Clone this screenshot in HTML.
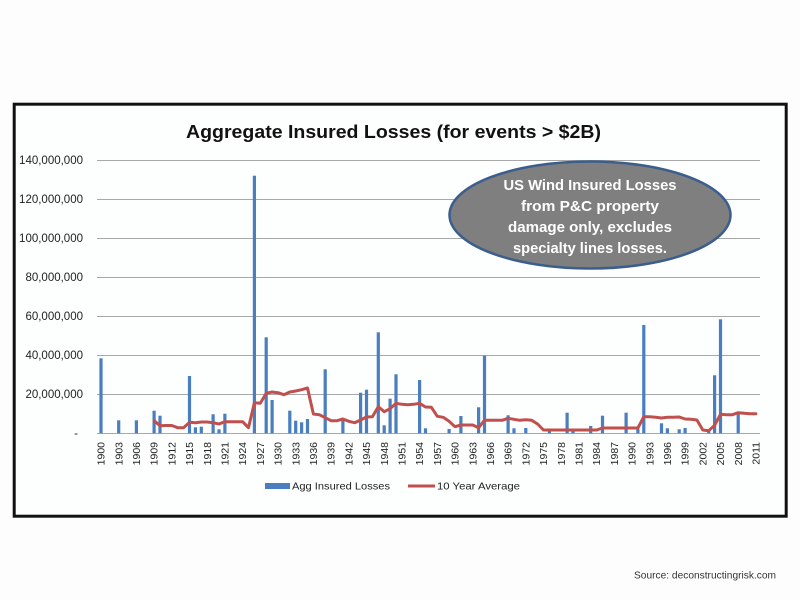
<!DOCTYPE html>
<html><head><meta charset="utf-8"><style>
html,body{margin:0;padding:0;background:#fdfdfd;}
svg{display:block;}
text{font-family:"Liberation Sans",Arial,sans-serif;}
</style></head><body>
<svg width="800" height="600" viewBox="0 0 800 600" xmlns="http://www.w3.org/2000/svg">
<rect x="0" y="0" width="800" height="600" fill="#fdfdfd"/>
<rect x="14.2" y="104.2" width="772" height="412" fill="#fdfefe" stroke="#111" stroke-width="3"/>
<text x="186" y="138" font-size="18" font-weight="bold" fill="#111" textLength="415" lengthAdjust="spacingAndGlyphs">Aggregate Insured Losses (for events &gt; $2B)</text>
<g stroke="#a8a8a8" stroke-width="1">
<line x1="97" y1="160.5" x2="760" y2="160.5"/>
<line x1="97" y1="199.5" x2="760" y2="199.5"/>
<line x1="97" y1="238.5" x2="760" y2="238.5"/>
<line x1="97" y1="277.5" x2="760" y2="277.5"/>
<line x1="97" y1="316.5" x2="760" y2="316.5"/>
<line x1="97" y1="355.5" x2="760" y2="355.5"/>
<line x1="97" y1="394.5" x2="760" y2="394.5"/>
<line x1="97" y1="433.5" x2="760" y2="433.5"/>
</g>
<g font-size="11.5" fill="#222" text-anchor="end">
<text x="83" y="164">140,000,000</text>
<text x="83" y="203">120,000,000</text>
<text x="83" y="242">100,000,000</text>
<text x="83" y="281">80,000,000</text>
<text x="83" y="320">60,000,000</text>
<text x="83" y="359">40,000,000</text>
<text x="83" y="398">20,000,000</text>
<text x="78" y="437">-</text>
</g>
<g fill="#4a7ebf">
<rect x="99.4" y="358.3" width="3.2" height="75"/>
<rect x="117.1" y="420.3" width="3.2" height="13"/>
<rect x="134.8" y="420.3" width="3.2" height="13"/>
<rect x="152.5" y="410.7" width="3.2" height="22.6"/>
<rect x="158.4" y="415.7" width="3.2" height="17.6"/>
<rect x="187.9" y="376" width="3.2" height="57.3"/>
<rect x="193.8" y="427.3" width="3.2" height="6"/>
<rect x="199.7" y="426.7" width="3.2" height="6.6"/>
<rect x="211.5" y="414.3" width="3.2" height="19"/>
<rect x="217.4" y="429.3" width="3.2" height="4"/>
<rect x="223.3" y="413.7" width="3.2" height="19.6"/>
<rect x="252.8" y="175.7" width="3.2" height="257.6"/>
<rect x="264.6" y="337.3" width="3.2" height="96"/>
<rect x="270.5" y="400" width="3.2" height="33.3"/>
<rect x="288.2" y="410.7" width="3.2" height="22.6"/>
<rect x="294.1" y="420.7" width="3.2" height="12.6"/>
<rect x="300" y="422.3" width="3.2" height="11"/>
<rect x="305.9" y="419" width="3.2" height="14.3"/>
<rect x="323.6" y="369.3" width="3.2" height="64"/>
<rect x="341.3" y="420" width="3.2" height="13.3"/>
<rect x="359" y="392.7" width="3.2" height="40.6"/>
<rect x="364.9" y="389.7" width="3.2" height="43.6"/>
<rect x="376.7" y="332.3" width="3.2" height="101"/>
<rect x="382.6" y="425.3" width="3.2" height="8"/>
<rect x="388.5" y="398.7" width="3.2" height="34.6"/>
<rect x="394.4" y="374.3" width="3.2" height="59"/>
<rect x="418" y="380" width="3.2" height="53.3"/>
<rect x="423.9" y="428.3" width="3.2" height="5"/>
<rect x="447.5" y="429" width="3.2" height="4.3"/>
<rect x="459.3" y="416" width="3.2" height="17.3"/>
<rect x="477" y="407.3" width="3.2" height="26"/>
<rect x="482.9" y="355.7" width="3.2" height="77.6"/>
<rect x="506.5" y="415.3" width="3.2" height="18"/>
<rect x="512.4" y="428.3" width="3.2" height="5"/>
<rect x="524.2" y="428" width="3.2" height="5.3"/>
<rect x="547.8" y="430.7" width="3.2" height="2.6"/>
<rect x="565.5" y="412.7" width="3.2" height="20.6"/>
<rect x="571.4" y="430.7" width="3.2" height="2.6"/>
<rect x="589.1" y="426" width="3.2" height="7.3"/>
<rect x="600.9" y="415.7" width="3.2" height="17.6"/>
<rect x="624.5" y="412.7" width="3.2" height="20.6"/>
<rect x="636.3" y="429" width="3.2" height="4.3"/>
<rect x="642.2" y="325" width="3.2" height="108.3"/>
<rect x="659.9" y="423.3" width="3.2" height="10"/>
<rect x="665.8" y="428.3" width="3.2" height="5"/>
<rect x="677.6" y="429.3" width="3.2" height="4"/>
<rect x="683.5" y="428" width="3.2" height="5.3"/>
<rect x="707.1" y="430.7" width="3.2" height="2.6"/>
<rect x="713" y="375.3" width="3.2" height="58"/>
<rect x="718.9" y="319.3" width="3.2" height="114"/>
<rect x="736.6" y="413.7" width="3.2" height="19.6"/>
</g>
<polyline fill="none" stroke="#c0504d" stroke-width="3" stroke-linejoin="round" stroke-linecap="round" points="154.1,420.7 160,425.7 165.9,425.5 171.8,425.5 177.7,427.7 183.6,427.7 189.5,422.3 195.4,422.7 201.3,422 207.2,422 213.1,422.7 219,424 224.9,421.7 230.8,421.7 236.7,421.7 242.6,421.7 248.5,427.7 254.4,402.7 260.3,403.3 266.2,393.3 272.1,392 278,392.7 283.9,394.7 289.8,392 295.7,391 301.6,389.7 307.5,388 313.4,414 319.3,414.7 325.2,417.7 331.1,420.7 337,420.7 342.9,419 348.8,421.3 354.7,422.7 360.6,420 366.5,417 372.4,416.7 378.3,406.7 384.2,411.7 390.1,408.7 396,403.3 401.9,404.3 407.8,404.7 413.7,404.3 419.6,403.3 425.5,407 431.4,407.3 437.3,416.3 443.2,417.3 449.1,421.3 455,426.7 460.9,425 466.8,425 472.7,425 478.6,427.7 484.5,420.3 490.4,420.3 496.3,420.3 502.2,420.3 508.1,418.3 514,419.3 519.9,420.3 525.8,419.7 531.7,420.3 537.6,424 543.5,430 549.4,430 596.6,430 602.5,428 637.9,428 643.8,416.7 649.7,416.7 655.6,417.3 661.5,418 667.4,417.3 673.3,417.3 679.2,417 685.1,419 691,419.3 696.9,420 702.8,430 708.7,430.7 714.6,425.3 720.5,414.3 726.4,414.7 732.3,414.7 738.2,412.7 744.1,413.3 750,413.7 755.9,413.7"/>
<g font-size="10.5" fill="#222" text-anchor="end">
<text transform="translate(104.6,442) rotate(-90)">1900</text>
<text transform="translate(122.3,442) rotate(-90)">1903</text>
<text transform="translate(140,442) rotate(-90)">1906</text>
<text transform="translate(157.7,442) rotate(-90)">1909</text>
<text transform="translate(175.4,442) rotate(-90)">1912</text>
<text transform="translate(193.1,442) rotate(-90)">1915</text>
<text transform="translate(210.8,442) rotate(-90)">1918</text>
<text transform="translate(228.5,442) rotate(-90)">1921</text>
<text transform="translate(246.2,442) rotate(-90)">1924</text>
<text transform="translate(263.9,442) rotate(-90)">1927</text>
<text transform="translate(281.6,442) rotate(-90)">1930</text>
<text transform="translate(299.3,442) rotate(-90)">1933</text>
<text transform="translate(317,442) rotate(-90)">1936</text>
<text transform="translate(334.7,442) rotate(-90)">1939</text>
<text transform="translate(352.4,442) rotate(-90)">1942</text>
<text transform="translate(370.1,442) rotate(-90)">1945</text>
<text transform="translate(387.8,442) rotate(-90)">1948</text>
<text transform="translate(405.5,442) rotate(-90)">1951</text>
<text transform="translate(423.2,442) rotate(-90)">1954</text>
<text transform="translate(440.9,442) rotate(-90)">1957</text>
<text transform="translate(458.6,442) rotate(-90)">1960</text>
<text transform="translate(476.3,442) rotate(-90)">1963</text>
<text transform="translate(494,442) rotate(-90)">1966</text>
<text transform="translate(511.7,442) rotate(-90)">1969</text>
<text transform="translate(529.4,442) rotate(-90)">1972</text>
<text transform="translate(547.1,442) rotate(-90)">1975</text>
<text transform="translate(564.8,442) rotate(-90)">1978</text>
<text transform="translate(582.5,442) rotate(-90)">1981</text>
<text transform="translate(600.2,442) rotate(-90)">1984</text>
<text transform="translate(617.9,442) rotate(-90)">1987</text>
<text transform="translate(635.6,442) rotate(-90)">1990</text>
<text transform="translate(653.3,442) rotate(-90)">1993</text>
<text transform="translate(671,442) rotate(-90)">1996</text>
<text transform="translate(688.7,442) rotate(-90)">1999</text>
<text transform="translate(706.4,442) rotate(-90)">2002</text>
<text transform="translate(724.1,442) rotate(-90)">2005</text>
<text transform="translate(741.8,442) rotate(-90)">2008</text>
<text transform="translate(759.5,442) rotate(-90)">2011</text>
</g>
<rect x="265" y="483" width="25" height="6" fill="#4a7ebf"/>
<text x="292" y="489.5" font-size="10.5" fill="#222" textLength="98" lengthAdjust="spacingAndGlyphs">Agg Insured Losses</text>
<line x1="408" y1="486" x2="435" y2="486" stroke="#c0504d" stroke-width="3"/>
<text x="437" y="489.5" font-size="10.5" fill="#222" textLength="83" lengthAdjust="spacingAndGlyphs">10 Year Average</text>
<ellipse cx="590" cy="215" rx="140.5" ry="53.5" fill="#7f7f7f" stroke="#3b5e8c" stroke-width="2.5"/>
<g font-size="15" font-weight="bold" fill="#ffffff" text-anchor="middle">
<text x="590" y="190" textLength="173" lengthAdjust="spacingAndGlyphs">US Wind Insured Losses</text>
<text x="590" y="211" textLength="138" lengthAdjust="spacingAndGlyphs">from P&amp;C property</text>
<text x="590" y="232" textLength="164" lengthAdjust="spacingAndGlyphs">damage only, excludes</text>
<text x="590" y="253" textLength="154" lengthAdjust="spacingAndGlyphs">specialty lines losses.</text>
</g>
<text x="634" y="578.5" font-size="10" fill="#333" textLength="142" lengthAdjust="spacingAndGlyphs">Source: deconstructingrisk.com</text>
</svg>
</body></html>
